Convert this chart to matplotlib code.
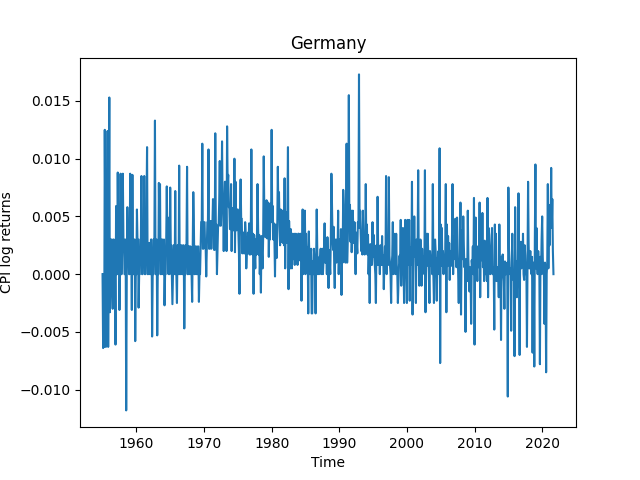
import numpy as np
import pandas as pd
import matplotlib
matplotlib.use('Agg')
import matplotlib.pyplot as plt

# monthly CPI log returns for Germany, in units of 1e-3
ret_1950s = [
    0, -6.4, 0, -6.3, 12.5, 3.0, -6.3, 0, 3.0, 12.4, -6.3, 3.0,
    15.3, -3.3, 0, 3.0, 3.0, 0, -3.0, 3.0, 3.0, 0, 0, -6.1,
    5.9, 0, 0, 8.8, 3.0, 3.0, -3.1, 0, 8.7, 0, 0, 3.0,
    8.7, 3.0, 3.0, 0, 0, 3.0, -11.8, 0, 5.8, 3.0, 3.0, 0,
    0, 8.7, 3.0, 3.0, -3.1, 8.6, 0, 0, 3.0, 3.0, -5.8, 0,
]
ret_1960s = [
    0, 5.6, 3.0, 3.0, -2.9, 0, 0, 3.0, 3.0, 8.5, 0, 0,
    3.0, 3.0, 8.5, 0, 0, 3.0, 5.5, 11.0, 0, 0, 2.7, 2.7,
    0, 0, 3.0, 3.0, -5.4, 0, 0, 3.0, 3.0, 13.3, 0, 0,
    3.0, -5.3, 0, 0, 7.9, 3.0, 7.8, 0, 0, 3.0, 3.0, 0,
    0, 3.0, -2.7, 0, 0, 3.0, 7.6, 3.0, 3.0, 0, 4.9, 0,
    7.5, 2.5, 2.5, 0, -2.6, 0, 2.5, 2.5, 0, 7.2, 0, 0,
    -2.5, 2.5, 2.5, 0, 9.4, 0, 0, 2.5, 2.5, 0, 0, 2.5,
    2.5, -4.7, 0, 0, 2.5, 2.5, 9.3, 0, 0, 2.4, 2.4, 0,
    2.4, 0, 0, -2.4, 2.4, 7.1, 4.7, 0, 0, 2.4, 2.4, 0,
    0, 2.4, 2.4, -2.4, 0, 0, 2.4, 4.5, 4.5, 11.3, 2.2, 2.2,
]
ret_1970s = [
    4.5, 4.5, 2.3, 2.3, -0.2, 2.3, 4.5, 4.5, 10.8, 2.2, 2.2, 4.6,
    4.6, 2.2, 4.4, 4.4, 6.5, 4.3, 2.1, 2.1, 12.2, 4.3, 4.3, 0,
    2.1, 4.2, 4.2, 6.3, 9.8, 4.2, 4.2, 6.2, 11.5, 6.0, 6.0, 2.0,
    6.0, 8.0, 8.0, 5.9, 2.0, 12.8, 7.8, 8.6, 5.8, 5.8, 3.9, 3.9,
    7.8, 2.0, 5.7, 5.7, 3.8, 3.8, 10.0, 1.9, 8.0, 3.8, 3.8, 5.6,
    5.6, 3.7, 1.9, -1.7, 5.5, 8.2, 4.8, 4.8, 1.8, 3.6, 3.6, 1.8,
    1.8, 4.5, 3.6, 0.5, 1.8, 1.8, 3.6, 1.8, 4.4, 1.7, 1.7, 3.5,
    10.8, 3.5, 1.7, 3.5, -1.7, 3.4, 1.7, 0.5, 3.0, 1.7, 3.4, 7.8,
    4.0, 1.7, 3.4, 0, 1.7, -1.6, 3.3, 1.6, 0.5, 3.3, 10.2, 5.5,
    5.5, 3.2, 4.8, 6.4, 3.1, 4.7, 6.2, 1.5, 4.6, 3.0, 6.1, 4.5,
]
ret_1980s = [
    12.5, 4.5, 5.9, 3.0, 4.4, 2.9, -0.2, 4.3, 2.9, 1.4, 4.3, 9.3,
    5.0, 7.1, 4.2, 2.5, 5.6, 4.2, 2.8, 5.5, 2.7, 4.1, 2.5, 8.3,
    0.5, 5.4, 4.0, 2.7, 5.3, 11.0, -1.3, 4.6, 2.6, 0.5, 3.9, 2.6,
    0.5, 3.5, 2.5, 1.3, 3.5, 0.8, 2.5, 3.5, 1.2, 2.5, 0.8, 3.5,
    3.5, 2.4, 1.2, 3.5, 2.4, -2.3, 1.2, 5.6, 0, 2.4, 1.1, 5.5,
    0, 3.5, 2.3, 1.1, 2.3, -3.4, 3.7, 1.1, 0, 1.1, 2.2, -3.4,
    -3.4, 1.1, 0, 2.2, 1.1, 0, -3.4, 1.1, 5.6, 2.0, 0, 1.1,
    0, 1.5, 1.1, 2.2, 0, 1.1, 2.2, 0, 1.1, 2.2, 4.4, 1.0,
    1.0, 2.1, 0, 3.2, 1.0, -1.2, 2.1, 1.0, 0, 3.1, 8.7, 6.3,
    3.1, 2.1, 4.1, 1.0, -1.2, 3.0, 2.0, 1.0, 3.0, 2.0, 5.5, 0,
]
ret_1990s = [
    2.0, 3.0, 1.0, 3.9, -1.8, 2.0, 1.0, 7.3, 6.0, 2.0, 3.0, 1.0,
    3.9, 11.3, 1.0, 2.9, 4.8, 15.5, 3.8, 6.0, 2.8, 5.5, 1.9, 3.7,
    5.5, 3.6, 2.7, 4.5, 1.8, 0, 3.6, 2.7, 1.8, 4.5, 4.0, 17.3,
    4.0, 5.5, 3.5, 2.0, 3.5, 1.7, 5.5, 2.0, 3.4, 1.7, 2.6, 7.8,
    2.0, 4.3, 1.7, 3.4, 0, 1.7, -2.5, 2.6, 0.8, 1.7, 0.8, 4.5,
    1.5, 3.4, 1.7, 0.8, 0, -2.5, 2.5, 0.8, 6.7, 2.0, 0.8, 1.6,
    0, 2.5, 1.6, 0.8, 3.3, 0.8, 1.6, -1.3, 0.8, 2.4, 0.8, 8.5,
    0, 1.6, 2.4, 0.8, 8.4, 1.6, 0.8, 0, -2.5, 0.8, 1.6, 4.5,
    0, 3.5, 0.8, 1.6, 0, 3.5, 0.8, 0, -2.5, -0.8, 0.8, 1.6,
    0.8, 4.7, -1.0, 1.6, 0.8, 4.0, 1.6, -2.5, 0.8, 4.7, 0, 0.8,
]
ret_2000s = [
    -2.5, 4.7, 1.6, 0.8, 4.7, -2.3, 2.3, 0.8, 1.6, 8.0, -3.5, 1.5,
    1.5, 5.0, 2.3, 1.5, -2.5, 3.0, 0.8, 2.2, 9.0, 1.5, -1.0, 0.5,
    3.0, 1.5, -1.0, 2.2, 0.5, 0.7, 1.5, 0, 9.0, -3.3, 3.5, 0.7,
    2.1, 3.5, 1.4, 0, -2.5, 2.0, 1.4, 0.7, 1.4, 0, 7.8, 0,
    -2.5, 1.4, 3.0, 2.0, 0.7, -2.3, 1.4, 0.7, 2.0, 0, 10.9, -7.7,
    4.3, 1.4, 4.0, 0.7, 2.0, 0, 1.4, 0.7, 2.0, 7.8, -3.3, 4.3,
    0.7, 3.3, 1.4, 2.7, -0.5, 2.0, 0.7, 1.3, 3.3, 7.8, 0, 3.3,
    3.3, 1.3, 4.8, 2.0, 0.6, 4.9, 2.6, 0, -2.5, 1.3, 0.6, 6.2,
    -3.5, 1.9, 3.8, 1.3, 5.0, 2.5, 0.6, 1.3, -5.0, 0.6, 1.3, -0.6,
    5.5, 1.3, 0, -1.5, 0.6, 0, -4.3, 1.2, 0.6, 2.4, 0, 6.6,
]
ret_2010s = [
    -6.1, 2.0, 4.9, 0.6, 1.2, -0.6, 2.4, 0.6, 1.2, 6.2, -2.0, 3.0,
    3.0, 1.2, 5.3, 0.6, 2.5, -0.6, 2.9, 0, 1.2, 0.6, -0.6, 6.6,
    -2.0, 4.0, 3.4, 1.2, 0, 0.6, 2.3, 4.0, 0, 0, 0.6, -4.8,
    4.3, 1.2, 3.5, -0.6, 0.6, 0, 0.6, -2.0, 4.3, 0, 1.2, -5.7,
    1.5, 0.6, 1.7, 0, -0.6, -3.0, 1.1, 0, 0, 0.6, 1.0, -10.6,
    7.5, 2.2, 0.5, 0, 0.5, -4.9, 1.1, 3.5, 0, -0.5, 0, -7.1,
    5.8, 0.5, 1.1, -2.0, 0.5, 1.1, 7.0, 0, -7.0, 2.8, 1.1, 0.5,
    2.8, 1.0, 3.5, 0, -0.5, 2.5, 1.6, 0, 0.5, -6.3, 1.0, 8.0,
    2.5, 0.5, 1.0, 2.0, 0.5, 0, 1.5, -6.8, 0.5, 1.0, -8.0, 3.0,
    9.5, 0.5, 4.0, 1.0, 0, 2.0, 1.0, 0.5, -7.8, 1.5, 0, 3.0,
]
ret_2020s = [
    5.0, 1.5, 0, 0.5, -4.3, 1.0, 0, -8.5, 0, 1.0, 7.8, 0.5,
    5.5, 2.5, 6.0, 4.5, 9.2, 4.0, 6.5, 2.0, 0,
]

vals = np.array(ret_1950s + ret_1960s + ret_1970s + ret_1980s
                + ret_1990s + ret_2000s + ret_2010s + ret_2020s) * 1e-3
dates = pd.date_range('1955-01-01', periods=len(vals), freq='MS')
series = pd.Series(vals, index=dates)

fig, ax = plt.subplots(figsize=(6.4, 4.8), dpi=100)
ax.plot(series.index, series.values)
ax.set_title('Germany')
ax.set_xlabel('Time')
ax.set_ylabel('CPI log returns')
fig.savefig('out.png')
